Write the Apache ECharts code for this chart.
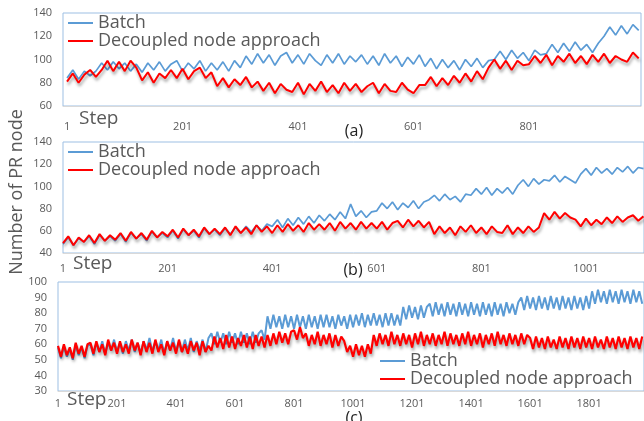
<!DOCTYPE html>
<html><head><meta charset="utf-8">
<script src="https://cdn.jsdelivr.net/npm/echarts@6/dist/echarts.min.js"></script>
<style>html,body{margin:0;padding:0;background:#fff}#c{width:644px;height:421px}</style>
</head><body><div id="c"></div>
<script>
// sampling interval (steps) between consecutive stored values
const SAMPLE_STEP = 10;

// Panel (a)
const batchA = [84,91,83,90,86,
 90,97,91,98,92,97,90,96,
 89,97,91,98,90,96,99,90,97,92,99,90,97,91,98,90,99,93,
 103,96,105,97,104,95,103,106,97,104,96,105,99,95,104,97,105,96,103,98,
 104,96,103,95,105,97,103,94,102,96,104,
 94,101,92,100,93,99,91,100,94,101,93,99,
 100,107,100,108,101,106,99,108,104,
 105,113,106,114,107,115,108,113,106,114,
 120,128,121,129,122,130,125];
const decA = [81,88,80,87, 91,85,
 91,99,90,98,90,99,93,
 82,89,80,88,84,
 91,84,92,83,90,93,84,89,
 77,84,76,83,78,85,76,81,
 73,80,71,79,74,72,80,70,79,73,81,72,78,71,80,73,79,72,77,80,71,79,73,72,80,74,71,78,
 78,85,77,84,78,86,80,
 88,81,90,83,
 93,100,92,99,91,99,95,
 96,103,97,104,95,103,98,105,97,103,96,104,98,105,97,103,100,98,106,101];

// Panel (b)
const batchB = [48,54,47,53,50,55,48,56,51,55,
 51,57,50,58,53,57,51,59,54,58,
 54,60,53,61,56,60,54,62,57,61,
 56,62,57,63,58,64,59,65,60,66,
 64,70,63,71,65,72,66,73,67,74,
 69,75,70,77,71,84,73,78,72,77,
 78,85,80,86,79,85,81,87,80,86,
 88,92,87,93,88,91,86,93,
 92,98,93,99,92,98,94,99,93,
 101,106,100,107,102,106,
 105,110,104,109,106, 103,
 111,116,110,117,112,116,111,117,113,118,112,117,116];
const decB = [49,55,47,54,50,56,49,57,51,56,
 52,58,51,59,53,58,52,60,54,59,
 55,61,54,62,56,61,55,63,57,62,
 57,63,56,64,58,63,57,65,59,64,
 58,65,59,66,60,65,59,67,61,66,
 61,67,60,68,62,67,61,68,62,67,
 62,68,61,67,69,63,70,64,69,63,68,
 57,64,58,63,56,64,59,65,58,63,57,64,59,58,65,57,63,58,64,59,63,
 76,70,77,71,76,72,
 70,64,71,65,70,66,
 72,67,73,68,72,74,69,73];

// Panel (c)
const batchC = [58,51,59,52,57,50,60,53,58,51,59,
 60,53,61,55,62,54,61,56,63,55,61,54,62,56,63,55,61,54,62,56,64,55,62,56,63,54,62,56,64,55,62,55,63,56,64,55,62,56,63,55,64,
 67,60,68,61,67,60,68,61,67,60,68,61,67,60,68,61,67,
 69,63,
 78,70,79,71,78,70,79,71,78,70,79,71,78,70,79,71,78,70,79,71,79,71,78,70,79,72,78,70,79,71,79,72,80,71,79,72,80,72,79,71,80,72,80,72,79,72,
 84,76,85,77,84,76,85,77,84,
 86,78,87,79,86,78,87,79,86,78,87,79,86,78,87,79,86,78,87,79,86,78,87,79,86,78,87,80,86,79,87,
 90,82,91,83,90,82,91,83,90,82,91,83,90,82,91,83,90,82,91,83,90,82,91,83,
 94,86,95,87,94,86,95,87,94,86,95,87,94,86,95,87,94,86];
const decC = [59,52,60,53,58,51,61,54,59,52,60,
 61,54,62,55,60,53,63,56,61,54,62,55,60,54,63,56,61,53,62,55,61,54,63,55,60,53,62,56,61,54,63,55,60,54,62,56,61,53,62,55,
 59,56,65,58,64,57,66,58,65,57,64,59,66,58,65,57,66,59,65,58,66,59,
 67,60,68,61,67,60,68,
 69,63,71,64,
 67,59,66,60,68,59,66,60,67,58,66,59,65,
 62,55,
 59,52,60,53,59,52,60,54,
 66,59,67,60,66,59,68,60,66,59,67,60,66,58,67,60,68,59,66,60,67,59,66,60,68,59,67,60,66,59,67,60,68,59,66,60,67,58,66,60,67,59,68,60,66,59,67,60,66,59,67,60,66,
 64,57,65,58,64,57,65,58,63,57,65,58,64,57,65,58,64,57,65,58,64,57,65,58,63,57,65,58,64,57,65,58,64,57,65,58,64,57,65];

// tick positions (step offsets)
const xTicksA = [0,200,400,600,800];
const xTicksB = [0,200,400,600,800,1000];
const xTicksC = [0,200,400,600,800,1000,1200,1400,1600,1800];
const seriesNames = ['Batch','Decoupled node approach'];

const toPairs = ys => ys.map((v,i)=>[i*SAMPLE_STEP, v]);

const GRAY = '#595959';
const BLUE = '#5b9bd5';
const RED = '#ff0000';
const FONT = 'Open Sans';

const grids = [
  {left:63, top:13, width:578, height:93},
  {left:63, top:142, width:585, height:111},
  {left:58, top:282, width:590, height:109}
];
grids.forEach(g=>{g.show=true; g.borderColor='#9dbfe3'; g.borderWidth=1; g.backgroundColor='transparent';});

function xAx(idx, min, max, ticks, margin){
  return {type:'value', gridIndex:idx, min:min, max:max,
    axisLine:{show:true, lineStyle:{color:'#d9d9d9', width:1}},
    axisTick:{show:false}, splitLine:{show:false},
    axisLabel:{customValues:ticks, formatter:v=>String(v+1), color:GRAY, fontSize:11, fontFamily:FONT, margin:margin, hideOverlap:false}};
}
function yAx(idx, min, max, interval){
  return {type:'value', gridIndex:idx, min:min, max:max, interval:interval,
    axisLine:{show:false}, axisTick:{show:false}, splitLine:{show:false},
    axisLabel:{color:GRAY, fontSize:11, fontFamily:FONT, margin:11}};
}
function blueS(idx, ys, w){
  return {type:'line', name:seriesNames[0], xAxisIndex:idx, yAxisIndex:idx, data:toPairs(ys),
    showSymbol:false, symbol:'none', animation:false, lineStyle:{color:BLUE, width:w}, itemStyle:{color:BLUE}};
}
function redS(idx, ys, w){
  return {type:'line', name:seriesNames[1], xAxisIndex:idx, yAxisIndex:idx, data:toPairs(ys),
    showSymbol:false, symbol:'none', animation:false, itemStyle:{color:RED},
    lineStyle:{color:RED, width:w, shadowColor:'rgba(0,0,0,0.35)', shadowBlur:3, shadowOffsetX:1, shadowOffsetY:3}};
}
function leg(left, top){
  return {orient:'vertical', left:left, top:top, itemWidth:25, itemHeight:2, icon:'rect', itemGap:0,
    data:seriesNames, selectedMode:false, padding:0,
    textStyle:{color:GRAY, fontSize:18, fontFamily:FONT, lineHeight:16}};
}
function txt(x, y, s, size){
  return {type:'text', x:x, y:y, style:{text:s, fill:GRAY, font:size+'px "'+FONT+'"', textAlign:'left', textVerticalAlign:'top'}};
}

const chart = echarts.init(document.getElementById('c'), null, {renderer:'canvas'});
chart.setOption({
  animation:false,
  backgroundColor:'#fff',
  grid:grids,
  xAxis:[xAx(0,-7,994,xTicksA,15), xAx(1,0,1111,xTicksB,10), xAx(2,0,1986,xTicksC,7)],
  yAxis:[yAx(0,60,140,20), yAx(1,40,140,20), yAx(2,30,100,10)],
  legend:[leg(68,14), leg(68,143), leg(380,352)],
  series:[blueS(0,batchA,1.7), redS(0,decA,2), blueS(1,batchB,1.7), redS(1,decB,2), blueS(2,batchC,2), redS(2,decC,2.2)],
  graphic:[
    txt(79,109,'Step',19),
    txt(73,254,'Step',19),
    txt(67,390,'Step',19),
    {type:'text', x:354, y:131, style:{text:'(a)', fill:'#222', font:'16px "'+FONT+'"', textAlign:'center', textVerticalAlign:'middle'}},
    {type:'text', x:353, y:270, style:{text:'(b)', fill:'#222', font:'16px "'+FONT+'"', textAlign:'center', textVerticalAlign:'middle'}},
    {type:'text', x:354, y:418, style:{text:'(c)', fill:'#222', font:'16px "'+FONT+'"', textAlign:'center', textVerticalAlign:'middle'}},
    {type:'text', x:17, y:192, rotation:Math.PI/2, style:{text:'Number of PR node', fill:GRAY, font:'18px "'+FONT+'"', textAlign:'center', textVerticalAlign:'middle'}}
  ]
});
</script></body></html>
